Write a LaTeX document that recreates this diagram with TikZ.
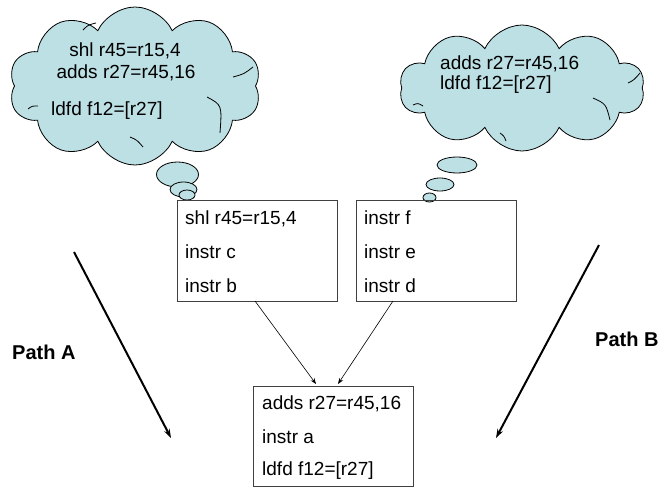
\documentclass[tikz,border=0pt]{standalone}
\usepackage{fontspec}
\setmainfont{Liberation Sans}
\usetikzlibrary{shapes.symbols,shapes.geometric,arrows.meta}
\definecolor{cloudfill}{RGB}{189,224,228}
\begin{document}
\begin{tikzpicture}[x=1pt,y=-1pt,
  cloudbox/.style={cloud, cloud puffs=10, cloud puff arc=130, cloud ignores aspect, draw=black, fill=cloudfill, line width=0.8pt, inner sep=0pt},
  bubble/.style={ellipse, draw=black, fill=cloudfill, line width=0.8pt, inner sep=0pt},
  inner/.style={draw=black, line width=0.8pt},
  codebox/.style={draw=black!75, line width=1pt, inner sep=0pt, anchor=north west, minimum width=160pt},
  txt/.style={anchor=base west, inner sep=0pt, font=\fontsize{19}{22}\selectfont},
  ctxt/.style={anchor=base, inner sep=0pt, font=\fontsize{19}{22}\selectfont},
  lbl/.style={anchor=base west, inner sep=0pt, font=\fontsize{20}{24}\selectfont\bfseries},
  thin/.style={draw=black, line width=0.6pt, -{Stealth[length=6pt,width=4.5pt]}},
  thick/.style={draw=black, line width=2pt, -{Stealth[length=9pt,width=6pt]}}]
\useasboundingbox (0,0) rectangle (662,487);

% left cloud
\node[cloudbox, minimum width=252pt, minimum height=158pt] (cL) at (135,86) {};
\draw[inner] (28,109) .. controls (32,106) .. (38,106);
\draw[inner] (83,30) .. controls (88,25) .. (96,23);
\draw[inner] (233,77) .. controls (244,74) .. (253,67);
\draw[inner] (207,97) .. controls (222,105) .. (220,133);
\draw[inner] (130,137) .. controls (137,140) .. (143,147);
\node[ctxt] (cL1) at (125,57) {shl r45=r15,4};
\node[ctxt] (cL2) at (126,78) {adds r27=r45,16};
\node[txt] (cL3) at (51,115) {ldfd f12=[r27]};
\node[bubble, minimum width=42pt, minimum height=25pt] (bL1) at (177.5,174.5) {};
\node[bubble, minimum width=27pt, minimum height=15pt] (bL2) at (183.5,189.5) {};
\node[bubble, minimum width=16pt, minimum height=10pt] (bL3) at (187,195) {};

% right cloud
\node[cloudbox, minimum width=245pt, minimum height=126pt] (cR) at (522,88) {};
\draw[inner] (413,105) .. controls (418,103) .. (423,106);
\draw[inner] (628,83) .. controls (634,80) .. (640,73);
\draw[inner] (593,98) .. controls (606,104) .. (610,120);
\draw[inner] (500,133) .. controls (504,136) .. (506,141);
\node[txt] (cR1) at (440,70) {adds r27=r45,16};
\node[txt] (cR2) at (440,89) {ldfd f12=[r27]};
\node[bubble, minimum width=40pt, minimum height=16pt] (bR1) at (457,165) {};
\node[bubble, minimum width=28pt, minimum height=13pt] (bR2) at (440,184.5) {};
\node[bubble, minimum width=13pt, minimum height=9pt] (bR3) at (429.5,197.5) {};

% boxes
\node[codebox, minimum height=101pt] (b1) at (177,200) {};
\node[txt] (b1a) at (185,224) {shl r45=r15,4};
\node[txt] (b1b) at (185,258) {instr c};
\node[txt] (b1c) at (185,292) {instr b};

\node[codebox, minimum height=101pt] (b2) at (356,200) {};
\node[txt] (b2a) at (364,224) {instr f};
\node[txt] (b2b) at (364,258) {instr e};
\node[txt] (b2c) at (364,292) {instr d};

\node[codebox, minimum height=100pt] (b3) at (253,386) {};
\node[txt] (b3a) at (262,409) {adds r27=r45,16};
\node[txt] (b3b) at (262,443) {instr a};
\node[txt] (b3c) at (262,475) {ldfd f12=[r27]};

% connectors
\coordinate (s1) at (255,301);
\coordinate (e1) at (316,384);
\coordinate (s2) at (393,301);
\coordinate (e2) at (338,384);
\draw[thin] (s1) -- (e1);
\draw[thin] (s2) -- (e2);

% paths
\coordinate (pAs) at (74,252);
\coordinate (pAe) at (171,438);
\coordinate (pBs) at (599,245);
\coordinate (pBe) at (496,438);
\draw[thick] (pAs) -- (pAe);
\draw[thick] (pBs) -- (pBe);
\node[lbl] (lA) at (12,359) {Path A};
\node[lbl] (lB) at (595,346) {Path B};
\end{tikzpicture}
\end{document}
